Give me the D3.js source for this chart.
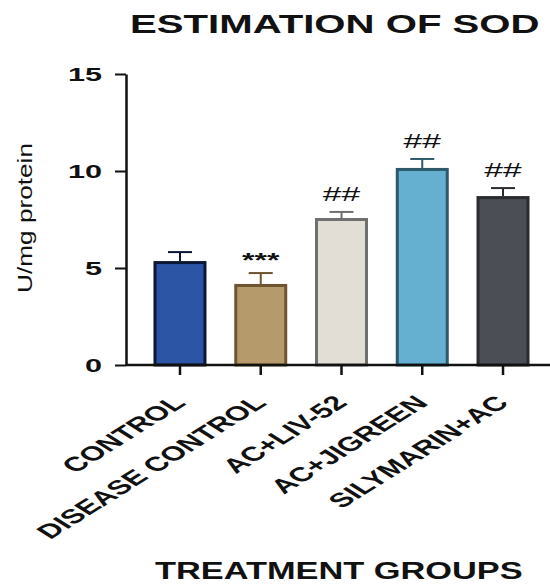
<!DOCTYPE html>
<html>
<head>
<meta charset="utf-8">
<script src="https://cdn.jsdelivr.net/npm/d3@7"></script>
<style>
  html, body { margin: 0; padding: 0; background: #fff; }
  svg { display: block; font-family: "Liberation Sans", Arial, sans-serif; }
</style>
</head>
<body>
<svg id="chart" width="550" height="584"></svg>
<script>
// SOD activity per treatment group (mean ± SEM, U/mg protein)
const groups = ["CONTROL", "DISEASE CONTROL", "AC+LIV-52", "AC+JIGREEN", "SILYMARIN+AC"];
const means = [5.28, 4.10, 7.50, 10.08, 8.63];
const sems = [0.54, 0.64, 0.39, 0.54, 0.49];
const marks = ["", "***", "##", "##", "##"];
const yTicks = [0, 5, 10, 15];
const fills = ["#2d55a5", "#b59a6b", "#e2ddd5", "#65afd0", "#4b4e55"];
const edges = ["#0b1734", "#6e5532", "#6f6f6f", "#2d5a6a", "#2a2b2f"];

const svg = d3.select("#chart");
const plotLeft = 126, plotBottom = 365, plotTop = 74;
const stretch = 1.6;

const x = d3.scaleBand()
  .domain(groups)
  .range([plotLeft, 557])
  .paddingInner(0.381)
  .paddingOuter(0.359);

const y = d3.scaleLinear().domain([0, 15]).range([plotBottom, plotTop]);

// Title
svg.append("text")
  .attr("transform", `translate(130,33) scale(${stretch},1)`)
  .attr("font-size", 25.1)
  .attr("font-weight", "bold")
  .attr("fill", "#111")
  .text("ESTIMATION OF SOD");

// Bars
const g = svg.append("g");
g.selectAll("rect.bar")
  .data(groups)
  .join("rect")
  .attr("class", "bar")
  .attr("x", d => x(d))
  .attr("y", (d, i) => y(means[i]))
  .attr("width", x.bandwidth())
  .attr("height", (d, i) => y(0) - y(means[i]))
  .attr("fill", (d, i) => fills[i])
  .attr("stroke", (d, i) => edges[i])
  .attr("stroke-width", 3);

// Error bars (upper only)
const capHalf = 12;
groups.forEach((d, i) => {
  const cx = x(d) + x.bandwidth() / 2;
  const hi = y(means[i] + sems[i]);
  g.append("line")
    .attr("x1", cx).attr("x2", cx)
    .attr("y1", y(means[i]) - 1.5).attr("y2", hi)
    .attr("stroke", edges[i]).attr("stroke-width", 2);
  g.append("line")
    .attr("x1", cx - capHalf).attr("x2", cx + capHalf)
    .attr("y1", hi).attr("y2", hi)
    .attr("stroke", edges[i]).attr("stroke-width", 2);
  if (marks[i]) {
    const star = marks[i].startsWith("*");
    g.append("text")
      .attr("transform", `translate(${cx},${hi - (star ? 6 : 11)}) scale(${stretch},1)`)
      .attr("text-anchor", "middle")
      .attr("font-size", star ? 20 : 21)
      .attr("font-weight", star ? "bold" : "normal")
      .attr("fill", "#111")
      .text(marks[i]);
  }
});

// Y axis
const yAxis = svg.append("g")
  .attr("transform", `translate(${plotLeft},0)`)
  .call(d3.axisLeft(y).tickValues(yTicks).tickSize(11).tickSizeOuter(0).tickFormat(""));
yAxis.select(".domain").attr("stroke", "#111").attr("stroke-width", 2.5);
yAxis.selectAll(".tick line").attr("stroke", "#111").attr("stroke-width", 2);

svg.append("g").selectAll("text")
  .data(yTicks)
  .join("text")
  .attr("transform", d => `translate(102,${y(d) + 6.5}) scale(1.75,1)`)
  .attr("text-anchor", "end")
  .attr("font-size", 17.5)
  .attr("font-weight", "bold")
  .attr("fill", "#111")
  .text(d => d);

// X axis
const xAxis = svg.append("g")
  .attr("transform", `translate(0,${plotBottom})`)
  .call(d3.axisBottom(x).tickSize(10).tickSizeOuter(0).tickFormat(""));
xAxis.select(".domain").attr("stroke", "#111").attr("stroke-width", 2.5)
  .attr("d", `M${plotLeft},0H550`);
xAxis.selectAll(".tick line").attr("stroke", "#111").attr("stroke-width", 2.5);

svg.append("g").selectAll("text")
  .data(groups)
  .join("text")
  .attr("transform", d => `translate(${x(d) + x.bandwidth() / 2 + 7},404) scale(${stretch},1) rotate(-45)`)
  .attr("text-anchor", "end")
  .attr("font-size", 20)
  .attr("font-weight", "bold")
  .attr("fill", "#111")
  .text(d => d);

// Axis titles
svg.append("text")
  .attr("transform", "translate(32,218) rotate(-90)")
  .attr("text-anchor", "middle")
  .attr("font-size", 20)
  .attr("textLength", 150)
  .attr("lengthAdjust", "spacingAndGlyphs")
  .attr("fill", "#111")
  .text("U/mg protein");

svg.append("text")
  .attr("transform", "translate(155,579) scale(1.45,1)")
  .attr("font-size", 23.7)
  .attr("font-weight", "bold")
  .attr("fill", "#111")
  .text("TREATMENT GROUPS");
</script>
</body>
</html>
